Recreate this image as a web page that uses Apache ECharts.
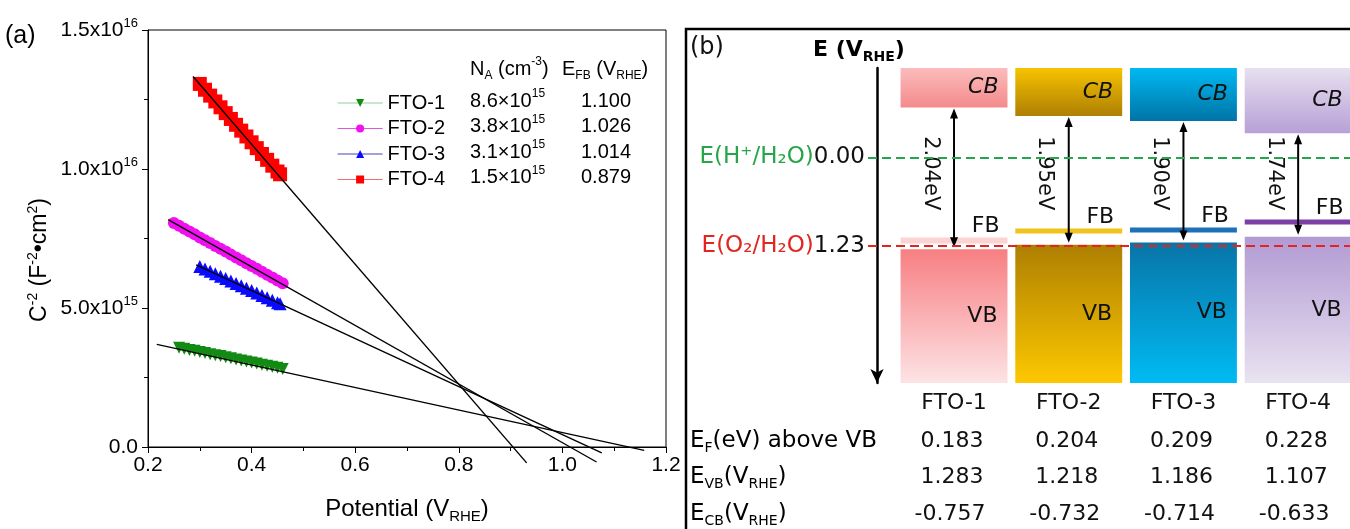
<!DOCTYPE html>
<html>
<head>
<meta charset="utf-8">
<script src="https://cdn.jsdelivr.net/npm/echarts@6/dist/echarts.min.js"></script>
<style>
  html, body { margin: 0; padding: 0; background: #fff; }
  #main { width: 1350px; height: 529px; }
</style>
</head>
<body>
<div id="main"></div>
<script>
// ---- (a) Mott-Schottky data: [potential V_RHE, C^-2 in F^-2 cm^4] ----
var sampleNames = ['FTO-1', 'FTO-2', 'FTO-3', 'FTO-4'];

var fto1Pts = [[0.26, 3.57e15], [0.27, 3.53e15], [0.28, 3.49e15], [0.29, 3.46e15], [0.30, 3.42e15],
  [0.31, 3.38e15], [0.32, 3.34e15], [0.33, 3.30e15], [0.34, 3.27e15], [0.35, 3.23e15],
  [0.36, 3.19e15], [0.37, 3.15e15], [0.38, 3.11e15], [0.39, 3.08e15], [0.40, 3.04e15],
  [0.41, 3.00e15], [0.42, 2.96e15], [0.43, 2.92e15], [0.44, 2.89e15], [0.45, 2.85e15], [0.46, 2.81e15]];
var fto2Pts = [[0.25, 8.06e15], [0.26, 7.96e15], [0.27, 7.85e15], [0.28, 7.75e15], [0.29, 7.65e15],
  [0.30, 7.54e15], [0.31, 7.44e15], [0.32, 7.34e15], [0.33, 7.23e15], [0.34, 7.13e15],
  [0.35, 7.03e15], [0.36, 6.92e15], [0.37, 6.82e15], [0.38, 6.72e15], [0.39, 6.61e15],
  [0.40, 6.51e15], [0.41, 6.41e15], [0.42, 6.30e15], [0.43, 6.20e15], [0.44, 6.10e15],
  [0.45, 5.99e15], [0.46, 5.89e15]];
var fto3Pts = [[0.30, 6.49e15], [0.31, 6.40e15], [0.32, 6.32e15], [0.33, 6.23e15], [0.34, 6.14e15],
  [0.35, 6.06e15], [0.36, 5.97e15], [0.37, 5.88e15], [0.38, 5.80e15], [0.39, 5.71e15],
  [0.40, 5.63e15], [0.41, 5.54e15], [0.42, 5.45e15], [0.43, 5.37e15], [0.44, 5.28e15],
  [0.45, 5.19e15], [0.455, 5.15e15]];
var fto4Pts = [[0.30, 13.06e15], [0.31, 12.85e15], [0.32, 12.64e15], [0.33, 12.43e15], [0.34, 12.22e15],
  [0.35, 12.01e15], [0.36, 11.80e15], [0.37, 11.59e15], [0.38, 11.38e15], [0.39, 11.17e15],
  [0.40, 10.96e15], [0.41, 10.75e15], [0.42, 10.54e15], [0.43, 10.33e15], [0.44, 10.12e15],
  [0.45, 9.91e15], [0.455, 9.81e15]];

// linear fits, drawn from end to end
var fit1 = [[0.217, 3.69e15], [1.158, -0.12e15]];
var fit2 = [[0.239, 8.18e15], [1.066, -0.54e15]];
var fit3 = [[0.293, 6.55e15], [1.076, -0.21e15]];
var fit4 = [[0.287, 13.33e15], [0.931, -0.57e15]];

var naMant = ['8.6', '3.8', '3.1', '1.5'];   // x10^15 cm^-3
var efbText = ['1.100', '1.026', '1.014', '0.879'];

// ---- (b) band diagram (V_RHE) ----
var cbDrawn = [-0.70, -0.58, -0.51, -0.34];   // bottom of CB boxes as drawn
var fbDrawn = [1.16, 1.026, 1.014, 0.90];     // FB bars as drawn
var gapText = ['2.04eV', '1.95eV', '1.90eV', '1.74eV'];
var efAboveVb = ['0.183', '0.204', '0.209', '0.228'];
var eVb = [1.283, 1.218, 1.186, 1.107];
var eCb = [-0.757, -0.732, -0.714, -0.633];
var refLevels = [0, 1.23];

var markerColors = ['#138a13', '#f010f0', '#0a0aff', '#ff0000'];
var legendLineColors = ['#8fd08f', '#e055e0', '#4444bb', '#e87070'];
var cbGrad = [['#fbbcbc', '#f48a8c'], ['#f7c300', '#ae7f04'], ['#00b9f2', '#0074a6'], ['#e7e0f0', '#b7a0d6']];
var vbGrad = [['#f77f82', '#fde3e5'], ['#ae7f02', '#fdc800'], ['#0874a8', '#00bbf3'], ['#b29ad3', '#e9e3f1']];
var fbColors = ['#fbd3d3', '#f2c21d', '#1e70b8', '#7d3fa5'];

var FA = 'Liberation Sans';
var FD = 'DejaVu Sans';

var chart = echarts.init(document.getElementById('main'));

var supA = { fontFamily: FA, fontSize: 12, lineHeight: 12, verticalAlign: 'top', color: '#000' };
var subA = { fontFamily: FA, fontSize: 12, lineHeight: 12, verticalAlign: 'bottom', color: '#000' };
var subD = { fontFamily: FD, fontSize: 14, lineHeight: 14, verticalAlign: 'bottom', color: '#111' };
var tD = { fontFamily: FD, fontSize: 23, lineHeight: 28, color: '#111' };
var tDb = { fontFamily: FD, fontSize: 22, lineHeight: 28, color: '#111', fontWeight: 'bold' };
var subDb = { fontFamily: FD, fontSize: 14, lineHeight: 14, verticalAlign: 'bottom', color: '#111', fontWeight: 'bold' };

var msPts = [fto1Pts, fto2Pts, fto3Pts, fto4Pts];
var fits = [fit1, fit2, fit3, fit4];
var symbols = ['triangle', 'circle', 'triangle', 'rect'];
var symRot = [180, 0, 0, 0];
var symSize = [12, 12, 13, 14];

var series = [];
msPts.forEach(function (pts, i) {
  series.push({
    name: sampleNames[i], type: 'line', xAxisIndex: 0, yAxisIndex: 0,
    data: pts, symbol: symbols[i], symbolRotate: symRot[i], symbolSize: symSize[i],
    showSymbol: true, lineStyle: { width: 0 }, itemStyle: { color: markerColors[i] },
    emphasis: { disabled: true }, z: 2, animation: false
  });
});
fits.forEach(function (f) {
  series.push({
    type: 'line', xAxisIndex: 0, yAxisIndex: 0, data: f, showSymbol: false, clip: false,
    lineStyle: { color: '#000', width: 1.4 }, silent: true, z: 3, animation: false
  });
});

// band diagram drawn through the second grid's axes
var bandData = sampleNames.map(function (n, i) { return [i, cbDrawn[i], fbDrawn[i], eVb[i]]; });
series.push({
  type: 'custom', xAxisIndex: 1, yAxisIndex: 1, data: bandData, z: 2, animation: false, silent: true,
  renderItem: function (params, api) {
    var i = params.dataIndex;
    var cx = api.coord([api.value(0), 0])[0];
    var half = api.size([1, 0])[0] * 0.466;
    var yTop = api.coord([0, -1.25])[1];
    var yBot = api.coord([0, 3.15])[1];
    var yCb = api.coord([0, api.value(1)])[1];
    var yFb = api.coord([0, api.value(2)])[1];
    var yVb = api.coord([0, api.value(3)])[1];
    var yLab = api.coord([0, 0.22])[1];
    var x0 = cx - half, x1 = cx + half;
    var grad = function (c) {
      return new echarts.graphic.LinearGradient(0, 0, 0, 1, [{ offset: 0, color: c[0] }, { offset: 1, color: c[1] }]);
    };
    var a0 = yCb + 1, a1 = yVb - 2;
    var f22 = '22px "' + FD + '"';
    var kids = [
      { type: 'rect', shape: { x: x0, y: yTop, width: 2 * half, height: yCb - yTop }, style: { fill: grad(cbGrad[i]) } },
      { type: 'rect', shape: { x: x0, y: yVb, width: 2 * half, height: yBot - yVb }, style: { fill: grad(vbGrad[i]) } },
      { type: 'rect', shape: { x: x0, y: yFb - (i === 0 ? 3 : 2.5), width: 2 * half, height: i === 0 ? 6 : 5 }, style: { fill: fbColors[i] } },
      { type: 'line', shape: { x1: cx, y1: a0 + 8, x2: cx, y2: a1 - 8 }, style: { stroke: '#000', lineWidth: 2 } },
      { type: 'polygon', shape: { points: [[cx, a0], [cx - 4, a0 + 10], [cx + 4, a0 + 10]] }, style: { fill: '#000' } },
      { type: 'polygon', shape: { points: [[cx, a1], [cx - 4, a1 - 10], [cx + 4, a1 - 10]] }, style: { fill: '#000' } },
      { type: 'text', x: cx - 24, y: yLab, rotation: -Math.PI / 2,
        style: { text: gapText[i], align: 'center', verticalAlign: 'middle', fill: '#111', font: '21px "' + FD + '"' } },
      { type: 'text', x: x1 - 9, y: (yTop + yCb) / 2,
        style: { text: 'CB', align: 'right', verticalAlign: 'middle', fill: '#111', font: 'italic 22px "' + FD + '"' } },
      { type: 'text', x: x1 - 8, y: yFb - 14,
        style: { text: 'FB', align: 'right', verticalAlign: 'middle', fill: '#111', font: f22 } },
      { type: 'text', x: x1 - 10, y: (yVb + yBot) / 2,
        style: { text: 'VB', align: 'right', verticalAlign: 'middle', fill: '#111', font: f22 } },
      { type: 'text', x: cx - 2, y: yBot + 58,
        style: { text: efAboveVb[i], align: 'center', verticalAlign: 'middle', fill: '#111', font: f22 } },
      { type: 'text', x: cx - 2, y: yBot + 94,
        style: { text: eVb[i].toFixed(3), align: 'center', verticalAlign: 'middle', fill: '#111', font: f22 } },
      { type: 'text', x: cx - 4, y: yBot + 131,
        style: { text: eCb[i].toFixed(3), align: 'center', verticalAlign: 'middle', fill: '#111', font: f22 } }
    ];
    return { type: 'group', children: kids };
  }
});
series.push({
  type: 'line', xAxisIndex: 1, yAxisIndex: 1, data: [], z: 5, silent: true, animation: false,
  markLine: {
    silent: true, symbol: 'none', label: { show: false }, animation: false,
    data: [
      { yAxis: refLevels[0], lineStyle: { color: '#27a54a', type: [9, 5], width: 2 } },
      { yAxis: refLevels[1], lineStyle: { color: '#e0261f', type: [9, 5], width: 2 } }
    ]
  }
});

// legend side table of panel (a), titles and panel (b) row labels
var graphics = [
  { type: 'text', x: 5, y: 36, style: { text: '(a)', font: '25px "' + FA + '"', fill: '#000', verticalAlign: 'middle' } },
  { type: 'text', x: 40, y: 260, rotation: Math.PI / 2,
    style: { text: 'C{sup|-2} (F{sup|-2}•cm{sup|2})', fontFamily: FA, fontSize: 23, lineHeight: 28, fill: '#000',
      align: 'center', verticalAlign: 'middle', rich: { sup: { fontFamily: FA, fontSize: 14, lineHeight: 14, verticalAlign: 'top' } } } },
  { type: 'text', x: 470, y: 69,
    style: { text: 'N{sub|A} (cm{sup|-3})', fontFamily: FA, fontSize: 20, lineHeight: 26, fill: '#000',
      verticalAlign: 'middle', rich: { sub: subA, sup: supA } } },
  { type: 'text', x: 562, y: 69,
    style: { text: 'E{sub|FB} (V{sub|RHE})', fontFamily: FA, fontSize: 20, lineHeight: 26, fill: '#000',
      verticalAlign: 'middle', rich: { sub: subA } } },
  { type: 'text', x: 690, y: 48, style: { text: '(b)', font: '24px "' + FD + '"', fill: '#111', verticalAlign: 'middle' } },
  { type: 'text', x: 813, y: 50,
    style: { text: '{t|E (V}{s|RHE}{t|)}', verticalAlign: 'middle', rich: { t: tDb, s: subDb } } },
  { type: 'polyline', shape: { points: [[686, 529], [686, 29], [1352, 29]] }, style: { stroke: '#000', lineWidth: 2.5, fill: null } },
  { type: 'text', x: 690, y: 441,
    style: { text: '{t|E}{s|F}{t|(eV) above VB}', verticalAlign: 'middle', rich: { t: tD, s: subD } } },
  { type: 'text', x: 690, y: 477,
    style: { text: '{t|E}{s|VB}{t|(V}{s|RHE}{t|)}', verticalAlign: 'middle', rich: { t: tD, s: subD } } },
  { type: 'text', x: 690, y: 514,
    style: { text: '{t|E}{s|CB}{t|(V}{s|RHE}{t|)}', verticalAlign: 'middle', rich: { t: tD, s: subD } } }
];
var rowY = [101, 126.5, 152, 177.5];
sampleNames.forEach(function (n, i) {
  graphics.push({ type: 'text', x: 470, y: rowY[i],
    style: { text: naMant[i] + '×10{sup|15}', fontFamily: FA, fontSize: 20, lineHeight: 26, fill: '#000',
      verticalAlign: 'middle', rich: { sup: supA } } });
  graphics.push({ type: 'text', x: 606, y: rowY[i],
    style: { text: efbText[i], font: '20px "' + FA + '"', fill: '#000', align: 'center', verticalAlign: 'middle' } });
});

var option = {
  animation: false,
  backgroundColor: '#fff',
  grid: [
    { left: 148, top: 30, width: 518, height: 420, show: true, borderColor: '#000', borderWidth: 1 },
    { left: 868, top: 68, width: 482, height: 315 }
  ],
  legend: {
    orient: 'vertical', left: 332, top: 88, itemWidth: 45, itemHeight: 10, itemGap: 5.5,
    selectedMode: false,
    textStyle: { fontFamily: FA, fontSize: 20, color: '#000', lineHeight: 20 },
    data: sampleNames.map(function (n, i) {
      return { name: n, lineStyle: { color: legendLineColors[i], width: 1.2, opacity: 1 } };
    })
  },
  xAxis: [
    {
      gridIndex: 0, type: 'value', min: 0.2, max: 1.2, interval: 0.2,
      name: 'Potential (V{sub|RHE})', nameLocation: 'middle', nameGap: 47,
      nameTextStyle: { fontFamily: FA, fontSize: 24, color: '#000', lineHeight: 30,
        rich: { sub: { fontFamily: FA, fontSize: 15, lineHeight: 15, verticalAlign: 'bottom', color: '#000' } } },
      axisLine: { onZero: false, lineStyle: { color: '#000', width: 1 } },
      axisTick: { length: 6, lineStyle: { color: '#000' } },
      minorTick: { show: true, splitNumber: 2, length: 4, lineStyle: { color: '#000' } },
      splitLine: { show: false },
      axisLabel: { fontFamily: FA, fontSize: 21, color: '#000', margin: 8,
        formatter: function (v) { return v.toFixed(1); } }
    },
    {
      gridIndex: 1, type: 'value', min: -0.75, max: 3.452,
      axisLine: { show: false, onZero: false }, axisTick: { show: false }, splitLine: { show: false },
      axisLabel: { customValues: [0, 1, 2, 3], margin: 9, fontFamily: FD, fontSize: 22, color: '#111',
        formatter: function (v) { return sampleNames[Math.round(v)]; } }
    }
  ],
  yAxis: [
    {
      gridIndex: 0, type: 'value', min: 0, max: 1.5e16, interval: 5e15,
      axisLine: { onZero: false, lineStyle: { color: '#000', width: 1 } },
      axisTick: { length: 6, lineStyle: { color: '#000' } },
      minorTick: { show: true, splitNumber: 2, length: 4, lineStyle: { color: '#000' } },
      splitLine: { show: false },
      axisLabel: { fontFamily: FA, fontSize: 21, color: '#000', margin: 10, lineHeight: 26,
        rich: { sup: { fontFamily: FA, fontSize: 13, lineHeight: 13, verticalAlign: 'top', color: '#000' } },
        formatter: function (v) {
          if (v === 0) return '0.0';
          var e = Math.floor(Math.log10(v) + 1e-9);
          return (v / Math.pow(10, e)).toFixed(1) + 'x10{sup|' + e + '}';
        } }
    },
    {
      gridIndex: 1, type: 'value', inverse: true, min: -1.25, max: 3.15, offset: -9,
      axisLine: { show: true, onZero: false, symbol: ['arrow', 'none'], symbolSize: [10, 14],
        lineStyle: { color: '#000', width: 2.5 } },
      axisTick: { show: true, customValues: refLevels, length: 8, lineStyle: { color: '#000', width: 1.5 } },
      splitLine: { show: false },
      axisLabel: { customValues: refLevels, margin: 12, fontFamily: FD, fontSize: 23, color: '#111', lineHeight: 28,
        rich: { g: { fontFamily: FD, fontSize: 23, color: '#27a54a' }, r: { fontFamily: FD, fontSize: 23, color: '#e0261f' },
          k: { fontFamily: FD, fontSize: 23, color: '#111' } },
        formatter: function (v) {
          return v === 0 ? '{g|E(H⁺/H₂O)}{k|0.00}' : '{r|E(O₂/H₂O)}{k|1.23}';
        } }
    }
  ],
  graphic: { elements: graphics },
  series: series
};
chart.setOption(option);
</script>
</body>
</html>
